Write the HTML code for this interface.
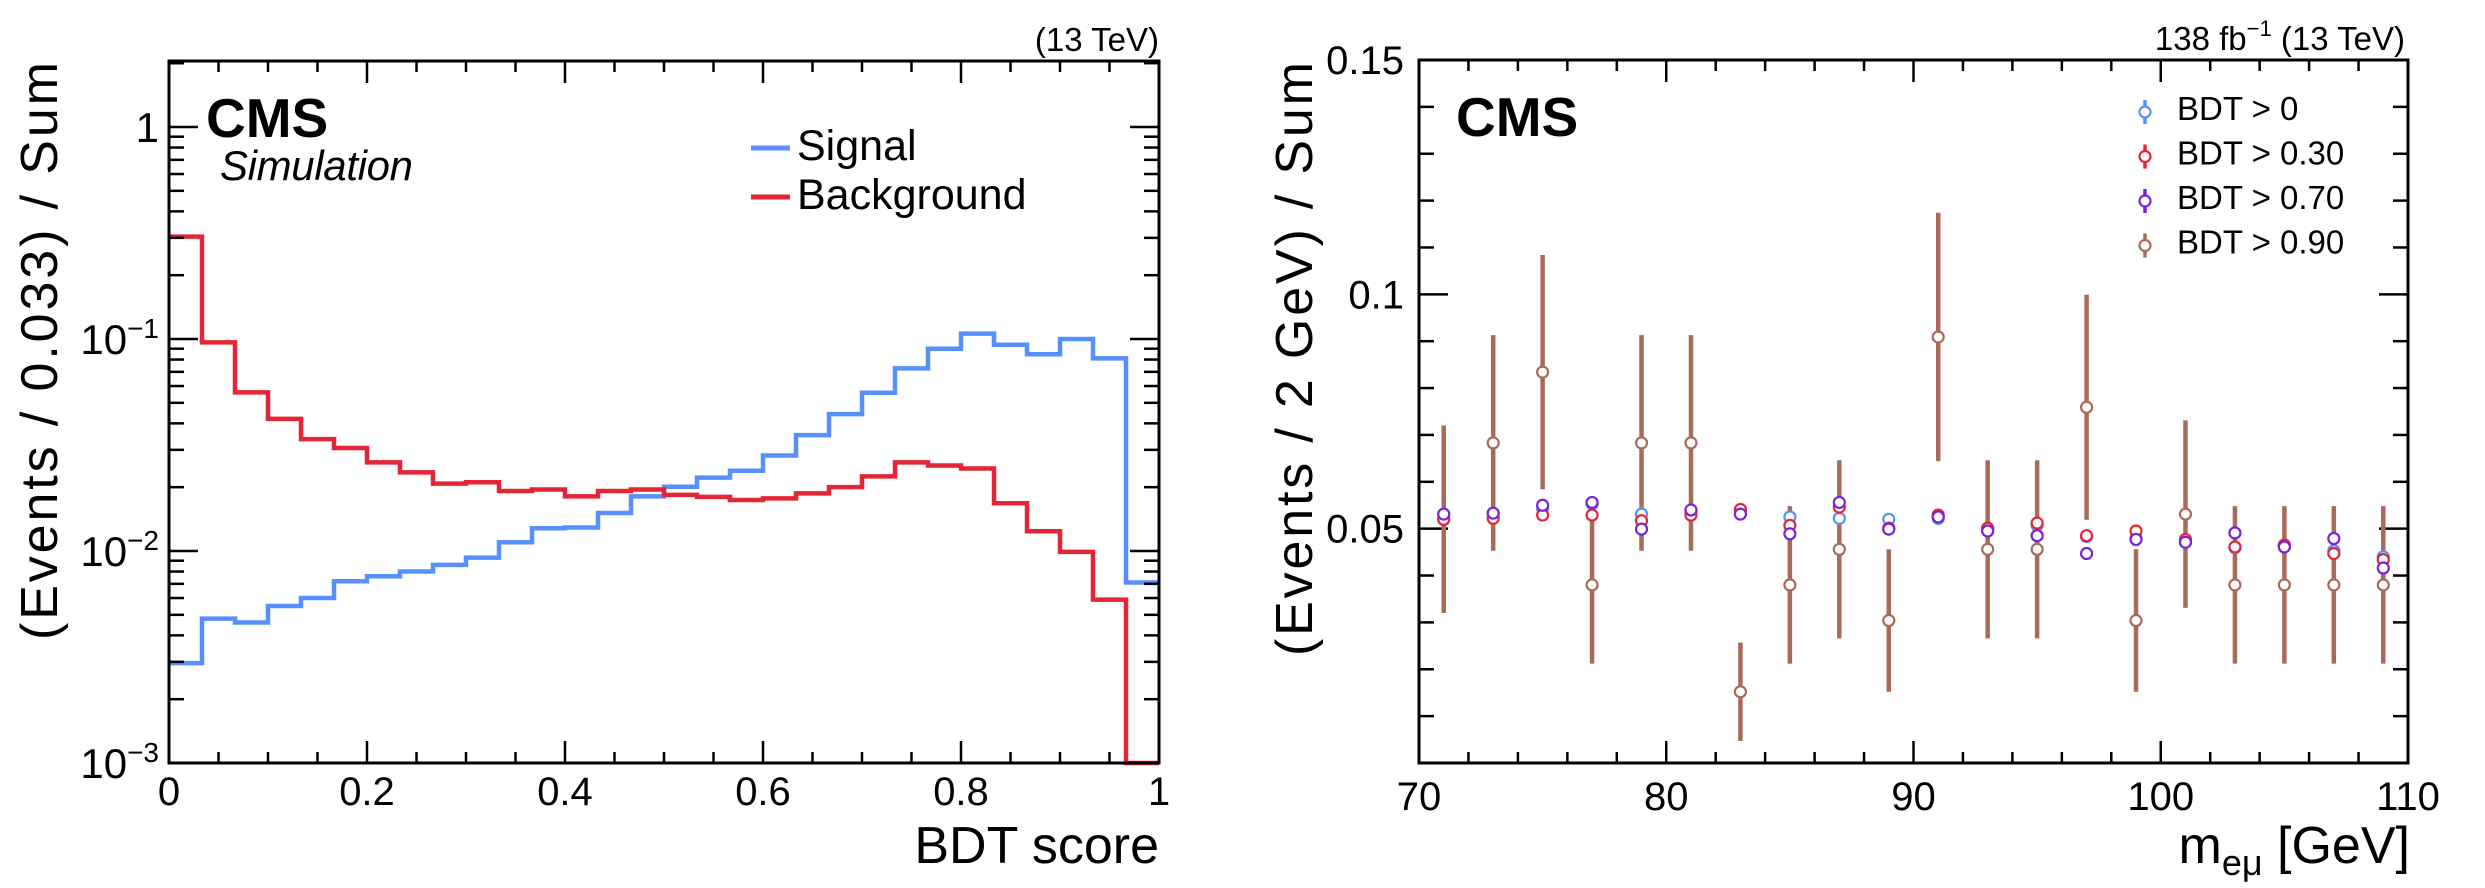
<!DOCTYPE html>
<html><head><meta charset="utf-8"><style>
html,body{margin:0;padding:0;background:#fff;}
svg{display:block;font-family:"Liberation Sans",Arial,sans-serif;}
</style></head><body>
<svg id="c" width="2485" height="888" viewBox="0 0 2485 888" xmlns="http://www.w3.org/2000/svg">
<g id="left"></g>
<g id="right"></g>
<text x="1159" y="51" font-size="33" text-anchor="end">(13 TeV)</text>
<text x="206" y="137" font-size="55" font-weight="bold">CMS</text>
<text x="220" y="180" font-size="42" font-style="italic" textLength="193">Simulation</text>
<text transform="translate(57,62) rotate(-90)" font-size="52" text-anchor="end" textLength="578">(Events / 0.033) / Sum</text>
<text x="1159" y="863" font-size="52" text-anchor="end">BDT score</text>
<g>
<line x1="751" y1="148" x2="790" y2="148" stroke="#5790fc" stroke-width="5"/>
<text x="797" y="160" font-size="43">Signal</text>
<line x1="751" y1="197" x2="790" y2="197" stroke="#e42536" stroke-width="5"/>
<text x="797" y="209" font-size="43">Background</text>
</g>
<text x="2405" y="50" font-size="33" text-anchor="end">138 fb<tspan dy="-14" font-size="22">−1</tspan><tspan dy="14"> (13 TeV)</tspan></text>
<text x="1456" y="136" font-size="55" font-weight="bold">CMS</text>
<text transform="translate(1312,62) rotate(-90)" font-size="52" text-anchor="end" textLength="594">(Events / 2 GeV) / Sum</text>
<text x="2410" y="863" font-size="52" text-anchor="end">m<tspan dy="12" font-size="36">eμ</tspan><tspan dy="-12"> [GeV]</tspan></text>
<g id="rleg"></g>
</svg>
<script>
// ---- left chart data ----
const bdtBinCount = 30;
const signalValues = [0.00296,0.0048,0.0046,0.0055,0.0060,0.0072,0.0076,0.0080,0.0086,0.0093,0.0110,0.0128,0.0129,0.0151,0.0181,0.0201,0.0222,0.0239,0.0282,0.0352,0.0442,0.0558,0.0727,0.0900,0.106,0.094,0.0847,0.100,0.081,0.0071];
const backgroundValues = [0.304,0.0964,0.056,0.042,0.0337,0.0306,0.0262,0.0235,0.0208,0.0211,0.0192,0.0195,0.0181,0.0192,0.0195,0.0184,0.0180,0.0174,0.0177,0.0187,0.0200,0.0225,0.0262,0.0253,0.0245,0.0168,0.0124,0.0099,0.0059,0.001];
const leftXTicks = ["0","0.2","0.4","0.6","0.8","1"];
const leftYExps = ["0","−1","−2","−3"];
// ---- right chart data ----
const massBins = [71,73,75,77,79,81,83,85,87,89,91,93,95,97,99,101,103,105,107,109];
const bdt0Values = [0.0531,0.0533,0.0543,0.0553,0.0531,0.0537,0.0537,0.0525,0.0522,0.0520,0.0522,0.0501,0.0507,0.0483,0.0479,0.0471,0.0459,0.0465,0.0453,0.0440];
const bdt030Values = [0.0520,0.0522,0.0529,0.0529,0.0517,0.0529,0.0541,0.0507,0.0546,0.0501,0.0529,0.0501,0.0512,0.0485,0.0495,0.0477,0.0461,0.0465,0.0447,0.0434];
const bdt070Values = [0.0531,0.0533,0.0550,0.0556,0.0499,0.0540,0.0531,0.0489,0.0556,0.0499,0.0525,0.0495,0.0485,0.0447,0.0477,0.0471,0.0491,0.0461,0.0479,0.0416];
const bdt090Values = [0.0520,0.0683,0.0834,0.0380,0.0683,0.0683,0.0152,0.0380,0.0456,0.0304,0.0909,0.0456,0.0456,0.0759,0.0304,0.0531,0.0380,0.0380,0.0380,0.0380];
const bdt090Errors = [0.0200,0.0230,0.0250,0.0168,0.0230,0.0230,0.0105,0.0168,0.0190,0.0152,0.0265,0.0190,0.0190,0.0240,0.0152,0.0200,0.0168,0.0168,0.0168,0.0168];
const smallErrors = [0.0010,0.0010,0.0012,0.0012,0.0012,0.0012,0.0013,0.0013,0.0013,0.0013,0.0013,0.0013,0.0013,0.0013,0.0013,0.0013,0.0013,0.0013,0.0013,0.0013];
const rightXTicks = [70,80,90,100,110];
const rightYTicks = ["0.05","0.1","0.15"];

const NS="http://www.w3.org/2000/svg";
function mk(parent,tag,attrs){const e=document.createElementNS(NS,tag);for(const k in attrs)e.setAttribute(k,attrs[k]);parent.appendChild(e);return e;}

// left axes
const L={x0:169,x1:1159,y0:61,y1:763};
const lx=v=>L.x0+v*(L.x1-L.x0);
const ly=v=>127-Math.log10(v)*212;
const lg=document.getElementById('left');
function hist(vals,color,name){
  let d="";const w=1/bdtBinCount;
  vals.forEach((v,i)=>{const y=Math.min(ly(Math.max(v,0.001)),L.y1);d+=(i?"L":"M")+lx(i*w)+","+y+"L"+lx((i+1)*w)+","+y;});
  const p=mk(lg,'path',{d:d,fill:'none',stroke:color,'stroke-width':4.5});
  
  
}
hist(signalValues,'#5790fc','signal-histogram');
hist(backgroundValues,'#e42536','background-histogram');
mk(lg,'rect',{x:L.x0,y:L.y0,width:L.x1-L.x0,height:L.y1-L.y0,fill:'none',stroke:'#000','stroke-width':3});
for(let i=0;i<=20;i++){const v=i*0.05,x=lx(v),len=(i%4==0)?22:11;
  mk(lg,'line',{x1:x,y1:L.y1,x2:x,y2:L.y1-len,stroke:'#000','stroke-width':2.5});
  mk(lg,'line',{x1:x,y1:L.y0,x2:x,y2:L.y0+len,stroke:'#000','stroke-width':2.5});}
for(let e=-3;e<=0;e++){for(let m=1;m<=9;m++){const v=m*Math.pow(10,e);const y=ly(v);if(y<L.y0||y>L.y1)continue;const len=m==1?29:15;
  mk(lg,'line',{x1:L.x0,y1:y,x2:L.x0+len,y2:y,stroke:'#000','stroke-width':2.5});
  mk(lg,'line',{x1:L.x1,y1:y,x2:L.x1-len,y2:y,stroke:'#000','stroke-width':2.5});}}
mk(lg,'line',{x1:L.x0,y1:ly(2),x2:L.x0+15,y2:ly(2),stroke:'#000','stroke-width':2.5});
leftXTicks.forEach((t,i)=>{const x=lx(i*0.2);const el=mk(lg,'text',{x:x,y:805,'font-size':40,'text-anchor':'middle'});el.textContent=t;
  
  });
leftYExps.forEach((t,i)=>{const y=ly(Math.pow(10,-i));const el=mk(lg,'text',{x:159,y:y+15,'font-size':42,'text-anchor':'end'});
  if(i==0){el.textContent="1";}else{el.innerHTML='10<tspan dy="-16" font-size="28">'+t+'</tspan>';}
  
  });

// right axes
const R={x0:1419,x1:2408,y0:60,y1:763};
const rx=v=>R.x0+(v-70)*(R.x1-R.x0)/40;
const ry=v=>R.y1-v*(R.y1-R.y0)/0.15;
const rg=document.getElementById('right');
mk(rg,'rect',{x:R.x0,y:R.y0,width:R.x1-R.x0,height:R.y1-R.y0,fill:'none',stroke:'#000','stroke-width':3});
for(let v=70;v<=110;v+=2){const x=rx(v),len=(v%10==0)?22:11;
  mk(rg,'line',{x1:x,y1:R.y1,x2:x,y2:R.y1-len,stroke:'#000','stroke-width':2.5});
  mk(rg,'line',{x1:x,y1:R.y0,x2:x,y2:R.y0+len,stroke:'#000','stroke-width':2.5});}
for(let i=1;i<=15;i++){const y=ry(i*0.01),len=(i%5==0)?29:15;
  mk(rg,'line',{x1:R.x0,y1:y,x2:R.x0+len,y2:y,stroke:'#000','stroke-width':2.5});
  mk(rg,'line',{x1:R.x1,y1:y,x2:R.x1-len,y2:y,stroke:'#000','stroke-width':2.5});}
rightXTicks.forEach(t=>{const el=mk(rg,'text',{x:rx(t),y:810,'font-size':40,'text-anchor':'middle'});el.textContent=t;
  
  });
rightYTicks.forEach(t=>{const el=mk(rg,'text',{x:1404,y:ry(parseFloat(t))+14,'font-size':40,'text-anchor':'end'});el.textContent=t;
  
  });
function series(vals,errs,color,bw,name){
  const g=mk(rg,'g',{});
  
  
  vals.forEach((v,i)=>{const x=rx(massBins[i]);
    mk(g,'line',{x1:x,y1:ry(v-errs[i]),x2:x,y2:ry(v+errs[i]),stroke:color,'stroke-width':bw});
    const c=mk(g,'circle',{cx:x,cy:ry(v),r:5.5,fill:'#fff',stroke:color,'stroke-width':2.2});
    
    });
}
series(bdt090Values,bdt090Errors,'#a96b59',4.5,'bdt-090-series');
series(bdt0Values,smallErrors,'#5790fc',3,'bdt-0-series');
series(bdt030Values,smallErrors,'#e42536',3,'bdt-030-series');
series(bdt070Values,smallErrors,'#7a21dd',3,'bdt-070-series');
// legend
const legLabels=["BDT > 0","BDT > 0.30","BDT > 0.70","BDT > 0.90"];
const legColors=['#5790fc','#e42536','#7a21dd','#a96b59'];
const lgg=document.getElementById('rleg');
legLabels.forEach((t,i)=>{const y=112+i*44.5;
  mk(lgg,'line',{x1:2145,y1:y-12,x2:2145,y2:y+12,stroke:legColors[i],'stroke-width':3.5});
  mk(lgg,'circle',{cx:2145,cy:y,r:5.5,fill:'#fff',stroke:legColors[i],'stroke-width':2.2});
  const el=mk(lgg,'text',{x:2177,y:y+8,'font-size':33});el.textContent=t;
  
  });
</script>
</body></html>
